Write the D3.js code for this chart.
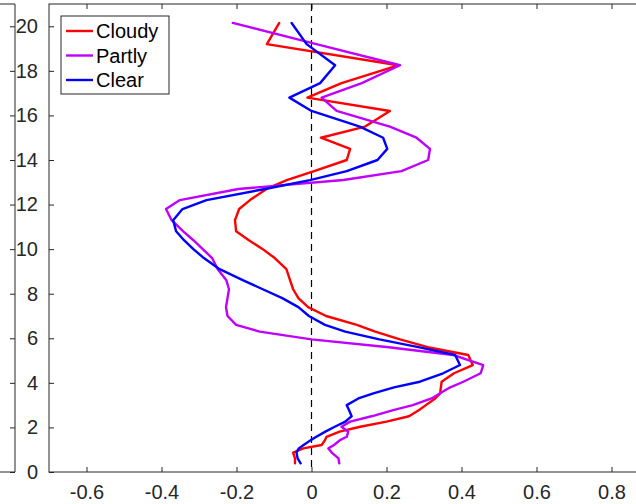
<!DOCTYPE html>
<html>
<head>
<meta charset="utf-8">
<script src="https://cdn.jsdelivr.net/npm/d3@7"></script>
<style>
  html, body { margin: 0; padding: 0; background: #fff; }
  svg { display: block; font-family: "Liberation Sans", Arial, Helvetica, sans-serif; }
</style>
</head>
<body>
<svg id="chart" width="636" height="504"></svg>
<script>
// Altitude levels (y values)
const altitude = [0.39, 0.61, 0.87, 1.06, 1.21, 1.43, 1.58, 1.81, 2.03, 2.26, 2.5, 2.78, 3.0, 3.3, 3.53, 3.8, 4.05, 4.43, 4.8, 5.25, 5.6, 5.95, 6.3, 6.6, 7.0, 7.4, 7.8, 8.2, 8.6, 9.1, 9.6, 10.0, 10.4, 10.8, 11.3, 11.8, 12.2, 12.7, 13.1, 13.5, 14.0, 14.5, 15.0, 15.5, 16.2, 16.8, 17.45, 18.25, 19.2, 20.15];

const cloudy = [-0.044, -0.044, -0.049, -0.022, 0.027, 0.036, 0.040, 0.075, 0.130, 0.200, 0.260, 0.287, 0.305, 0.330, 0.343, 0.345, 0.347, 0.380, 0.430, 0.418, 0.310, 0.236, 0.170, 0.121, 0.039, -0.009, -0.035, -0.049, -0.057, -0.067, -0.098, -0.130, -0.167, -0.201, -0.204, -0.193, -0.164, -0.120, -0.066, 0.007, 0.094, 0.103, 0.025, 0.143, 0.209, -0.011, 0.080, 0.231, -0.119, -0.086];

const partly = [0.074, 0.072, 0.054, 0.045, 0.060, 0.076, 0.094, 0.098, 0.080, 0.103, 0.160, 0.218, 0.270, 0.320, 0.343, 0.370, 0.405, 0.451, 0.458, 0.378, 0.206, 0.000, -0.138, -0.201, -0.224, -0.228, -0.224, -0.220, -0.227, -0.250, -0.265, -0.290, -0.315, -0.342, -0.373, -0.388, -0.351, -0.195, 0.085, 0.240, 0.311, 0.316, 0.280, 0.209, 0.067, 0.027, 0.134, 0.236, 0.013, -0.210];

const clear = [-0.029, -0.037, -0.040, -0.034, -0.021, -0.002, 0.013, 0.037, 0.062, 0.090, 0.107, 0.100, 0.094, 0.125, 0.165, 0.220, 0.289, 0.351, 0.396, 0.383, 0.285, 0.181, 0.090, 0.036, -0.007, -0.035, -0.078, -0.130, -0.182, -0.245, -0.287, -0.315, -0.340, -0.361, -0.369, -0.344, -0.280, -0.124, -0.004, 0.094, 0.176, 0.202, 0.191, 0.129, 0.000, -0.059, 0.023, 0.063, -0.013, -0.053];

const seriesNames = ["Cloudy", "Partly", "Clear"];
const seriesColors = ["#ff0000", "#bf00ff", "#0000ff"];
const xTicks = [-0.6, -0.4, -0.2, 0, 0.2, 0.4, 0.6, 0.8];
const xTickLabels = ["-0.6", "-0.4", "-0.2", "0", "0.2", "0.4", "0.6", "0.8"];
const yTicks = [0, 2, 4, 6, 8, 10, 12, 14, 16, 18, 20];

const svg = d3.select("#chart");
const axisColor = "#262626";

const x = d3.scaleLinear().domain([-0.7, 0.9]).range([49, 649]);
const y = d3.scaleLinear().domain([0, 21]).range([472, 4]);

// Neighbouring (cut-off) subplot on the left
const lp = svg.append("g");
lp.append("path")
  .attr("d", `M0,${y(21)}H15V${y(0)}H0`)
  .attr("fill", "none").attr("stroke", axisColor).attr("stroke-width", 1);
const leftAxis = lp.append("g")
  .attr("transform", "translate(15,0)")
  .call(d3.axisRight(y).tickValues(yTicks).tickSize(-5).tickSizeOuter(0).tickFormat(""));
leftAxis.select(".domain").remove();
leftAxis.selectAll("line").attr("stroke", axisColor);

// Plot box
svg.append("rect")
  .attr("x", x(-0.7)).attr("y", y(21))
  .attr("width", x(0.9) - x(-0.7)).attr("height", y(0) - y(21))
  .attr("fill", "#fff").attr("stroke", axisColor).attr("stroke-width", 1);

// Axes
const gx = svg.append("g")
  .attr("transform", `translate(0,${y(0)})`)
  .call(d3.axisBottom(x).tickValues(xTicks).tickSize(-5).tickSizeOuter(0).tickPadding(13)
    .tickFormat((d, i) => xTickLabels[i]));
const gxTop = svg.append("g")
  .attr("transform", `translate(0,${y(21)})`)
  .call(d3.axisTop(x).tickValues(xTicks).tickSize(-5).tickSizeOuter(0).tickFormat(""));
const gy = svg.append("g")
  .attr("transform", `translate(${x(-0.7)},0)`)
  .call(d3.axisLeft(y).tickValues(yTicks).tickSize(-5).tickSizeOuter(0).tickPadding(11));

[gx, gxTop, gy].forEach(g => {
  g.select(".domain").remove();
  g.selectAll("line").attr("stroke", axisColor);
  g.selectAll("text").attr("fill", axisColor).style("font-size", "20px")
    .style("font-family", '"Liberation Sans", Arial, Helvetica, sans-serif');
});

// Zero dashed line
svg.append("line")
  .attr("x1", x(0)).attr("x2", x(0))
  .attr("y1", y(21)).attr("y2", y(0))
  .attr("stroke", "#000").attr("stroke-width", 1.2)
  .attr("stroke-dasharray", "7,5");

// Series
const allSeries = [cloudy, partly, clear];
const line = d3.line()
  .x(d => x(d[0]))
  .y(d => y(d[1]));

allSeries.forEach((vals, i) => {
  const pts = vals.map((v, k) => [v, altitude[k]]);
  svg.append("path")
    .datum(pts)
    .attr("d", line)
    .attr("fill", "none")
    .attr("stroke", seriesColors[i])
    .attr("stroke-width", 2.4)
    .attr("stroke-linejoin", "round")
    .attr("stroke-linecap", "round");
});

// Legend
const lg = svg.append("g").attr("transform", "translate(61,16)");
lg.append("rect")
  .attr("width", 108).attr("height", 78)
  .attr("fill", "#fff").attr("stroke", axisColor).attr("stroke-width", 1);
seriesNames.forEach((name, i) => {
  const yy = 15 + i * 24.5;
  lg.append("line")
    .attr("x1", 5).attr("x2", 32).attr("y1", yy).attr("y2", yy)
    .attr("stroke", seriesColors[i]).attr("stroke-width", 2.4);
  lg.append("text")
    .attr("x", 35).attr("y", yy).attr("dy", "0.35em")
    .attr("fill", "#000").style("font-size", "20px")
    .text(name);
});
</script>
</body>
</html>
